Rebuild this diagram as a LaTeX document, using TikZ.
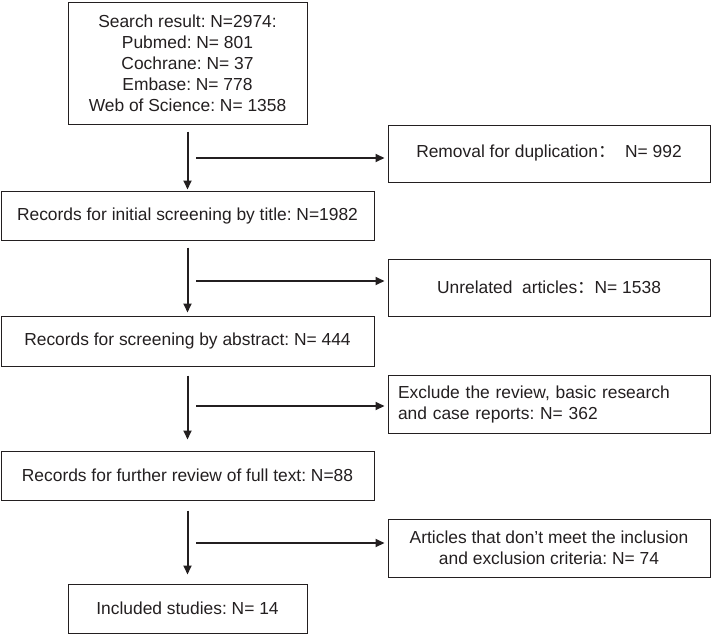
\documentclass[tikz,border=0pt]{standalone}
\usepackage{fontspec}
\setmainfont{Liberation Sans}
\newfontfamily\cjk{Noto Sans CJK SC}
\usetikzlibrary{arrows.meta}
\definecolor{ink}{RGB}{35,31,32}
\frenchspacing
\begin{document}
\begin{tikzpicture}[x=1pt,y=-1pt,
                box/.style={draw=ink,line width=1pt,rectangle,text=ink,inner sep=0pt,
                    font=\fontsize{17.4}{21}\selectfont,align=center},
                arr/.style={draw=ink,line width=2pt,-{Triangle[length=9pt,width=8pt]}}]
                \useasboundingbox (0,0) rectangle (712,634);

                \node[box,minimum width=239pt,minimum height=121pt] (search) at (187.5,63.5)
                    {Search result: N=2974:\\Pubmed: N= 801\\Cochrane: N= 37\\Embase: N= 778\\Web of Science: N= 1358};
                \node[box,minimum width=373pt,minimum height=49pt] (title) at (187.5,215.5)
                    {Records for initial screening by title: N=1982};
                \node[box,minimum width=373pt,minimum height=50pt] (abstract) at (187.5,341)
                    {Records for screening by abstract: N= 444};
                \node[box,minimum width=373pt,minimum height=49pt] (fulltext) at (187.5,475.5)
                    {Records for further review of full text: N=88};
                \node[box,minimum width=239pt,minimum height=49pt] (included) at (187.5,608.5)
                    {Included studies: N= 14};

                \node[box,minimum width=322pt,minimum height=57pt] (removal) at (549,153.5)
                    {Removal for duplication{\cjk ：}\ \ N= 992};
                \node[box,minimum width=322pt,minimum height=57pt] (unrelated) at (549,287.5)
                    {Unrelated\ \ articles{\cjk ：}N= 1538};
                \node[box,text width=302pt,inner xsep=10pt,minimum height=58pt,align=left] (exclude) at (549,404)
                    {Exclude the review, basic research\\and case reports: N= 362};
                \node[box,minimum width=322pt,minimum height=58pt] (articles) at (549,548)
                    {Articles that don’t meet the inclusion\\and exclusion criteria: N= 74};

                \coordinate (h1) at (196,158);
                \coordinate (h2) at (196,281);
                \coordinate (h3) at (196,406);
                \coordinate (h4) at (196,543);

                \draw[arr,shorten <=7pt,shorten >=1pt] (search) to (title);
                \draw[arr,shorten <=7pt,shorten >=3pt] (title) to (abstract);
                \draw[arr,shorten <=9pt,shorten >=11pt] (abstract) to (fulltext);
                \draw[arr,shorten <=10pt,shorten >=9pt] (fulltext) to (included);

                \draw[arr,shorten >=3pt] (h1) to (h1 -| removal.west);
                \draw[arr,shorten >=3pt] (h2) to (h2 -| unrelated.west);
                \draw[arr,shorten >=3pt] (h3) to (h3 -| exclude.west);
                \draw[arr,shorten >=3pt] (h4) to (h4 -| articles.west);
            \end{tikzpicture}
\end{document}
